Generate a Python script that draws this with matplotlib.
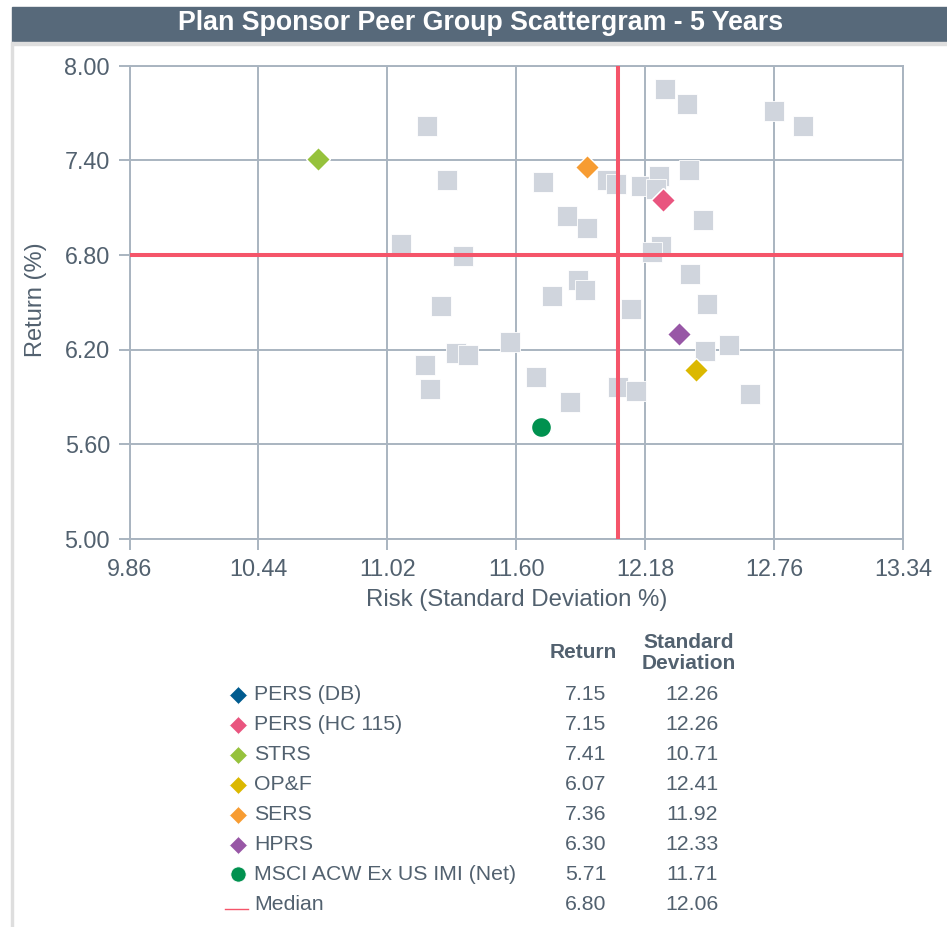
import numpy as np
import matplotlib
matplotlib.use("Agg")
import matplotlib.pyplot as plt
from matplotlib.lines import Line2D
from matplotlib.patches import Rectangle

plt.rcParams['font.family'] = ['Liberation Sans', 'DejaVu Sans']

# peer group (gray squares)
peer_risk = [11.20, 11.29, 11.72, 11.08, 11.36, 12.27, 12.37, 12.76, 12.89, 12.375,
             12.01, 12.05, 12.16, 12.24, 12.23, 11.83, 11.92, 12.44, 12.25, 12.21,
             12.38, 11.88, 11.91, 11.76, 12.115, 12.46, 11.57, 12.45, 12.555, 11.69,
             11.84, 12.06, 12.14, 12.65, 11.26, 11.33, 11.385, 11.19, 11.21]
peer_return = [7.62, 7.275, 7.26, 6.87, 6.79, 7.85, 7.76, 7.71, 7.62, 7.34,
               7.275, 7.25, 7.24, 7.30, 7.22, 7.045, 6.97, 7.02, 6.856, 6.82,
               6.68, 6.64, 6.58, 6.54, 6.456, 6.49, 6.25, 6.19, 6.23, 6.025,
               5.87, 5.96, 5.935, 5.92, 6.475, 6.18, 6.165, 6.10, 5.95]

# highlighted funds
names = ["PERS (DB)", "PERS (HC 115)", "STRS", "OP&F", "SERS", "HPRS",
         "MSCI ACW Ex US IMI (Net)"]
returns = [7.15, 7.15, 7.41, 6.07, 7.36, 6.30, 5.71]
risks = [12.26, 12.26, 10.71, 12.41, 11.92, 12.33, 11.71]
colors = ["#005b8f", "#e9557f", "#96c23c", "#dbb800", "#f79c32", "#9857a6", "#00914f"]
markers = ["D", "D", "D", "D", "D", "D", "o"]

median_return = 6.80
median_risk = 12.06

x_ticks = [9.86, 10.44, 11.02, 11.60, 12.18, 12.76, 13.34]
y_ticks = [5.00, 5.60, 6.20, 6.80, 7.40, 8.00]

W, H = 947, 927
TXT = "#52616f"
GRID = "#a9b4c0"
RED = "#f5556a"


def fx(x):
    return x / W


def fy(y):
    return 1 - y / H


fig = plt.figure(figsize=(W / 100, H / 100), dpi=100)

# title bar + light frame
fig.patches.append(Rectangle((fx(12), fy(42)), 1 - fx(12), (42 - 7) / H,
                             transform=fig.transFigure, color="#57697a", zorder=0))
fig.patches.append(Rectangle((fx(12), fy(45)), 1 - fx(12), 3 / H,
                             transform=fig.transFigure, color="#dedede", zorder=0))
fig.patches.append(Rectangle((fx(11), 0), 2 / W, fy(42),
                             transform=fig.transFigure, color="#dedede", zorder=0))
fig.text(fx(481), fy(23), "Plan Sponsor Peer Group Scattergram - 5 Years",
         color="white", fontsize=19.3, fontweight="bold", ha="center", va="center")

ax = fig.add_axes([fx(129.5), fy(538.7), (903 - 129.5) / W, (538.7 - 65.7) / H])
ax.set_xlim(9.86, 13.34)
ax.set_ylim(5.0, 8.0)
ax.set_xticks(x_ticks)
ax.set_yticks(y_ticks)
ax.set_xticklabels([f"{v:.2f}" for v in x_ticks])
ax.set_yticklabels([f"{v:.2f}" for v in y_ticks])
ax.grid(True, color=GRID, linewidth=1.4)
ax.set_axisbelow(True)
for s in ax.spines.values():
    s.set_color(GRID)
    s.set_linewidth(1.4)
ax.tick_params(colors=GRID, labelcolor=TXT, labelsize=16.8, length=8,
               width=1.4, direction="out")
ax.tick_params(axis="y", pad=6)
ax.tick_params(axis="x", pad=6)

ax.plot(peer_risk, peer_return, "s", color="#d0d5dd", markersize=14.6,
        markeredgecolor="white", markeredgewidth=0.6, zorder=2)
ax.axhline(median_return, color=RED, linewidth=2.9, zorder=3)
ax.axvline(median_risk, color=RED, linewidth=2.9, zorder=3)
for r, ret, c, m in zip(risks, returns, colors, markers):
    ms = 12.4 if m == "D" else 14.4
    ax.plot(r, ret, m, color=c, markersize=ms, markeredgecolor="white",
            markeredgewidth=1.0, zorder=4)

fig.text(fx(36), fy(300), "Return (%)", rotation=90, color=TXT, fontsize=17,
         ha="center", va="center")
fig.text(fx(517), fy(600), "Risk (Standard Deviation %)", color=TXT,
         fontsize=17.3, ha="center", va="center")

# table-style legend
fig.text(fx(583), fy(653), "Return", color=TXT, fontsize=15, fontweight="bold",
         ha="center", va="center")
fig.text(fx(689), fy(653), "Standard\nDeviation", color=TXT, fontsize=15,
         fontweight="bold", ha="center", va="center", linespacing=1.15)

row_y0, row_dy = 695, 29.9
rows = list(zip(names, returns, risks, colors, markers))
rows.append(("Median", median_return, median_risk, RED, None))
for i, (n, ret, r, c, m) in enumerate(rows):
    y = row_y0 + i * row_dy
    if m is None:
        fig.add_artist(Line2D([fx(225), fx(248)], [fy(y + 5), fy(y + 5)],
                              transform=fig.transFigure, color=RED, linewidth=1.0))
    else:
        ms = 8.8 if m == "D" else 11
        fig.add_artist(Line2D([fx(238)], [fy(y)], transform=fig.transFigure,
                              marker=m, color=c, markersize=ms,
                              markeredgecolor="white", markeredgewidth=0.6))
    fig.text(fx(254), fy(y), n, color=TXT, fontsize=15.3, ha="left", va="center")
    fig.text(fx(586), fy(y), f"{ret:.2f}", color=TXT, fontsize=15.3,
             ha="center", va="center")
    fig.text(fx(692), fy(y), f"{r:.2f}", color=TXT, fontsize=15.3,
             ha="center", va="center")

fig.savefig("out.png", dpi=100, facecolor="white")
